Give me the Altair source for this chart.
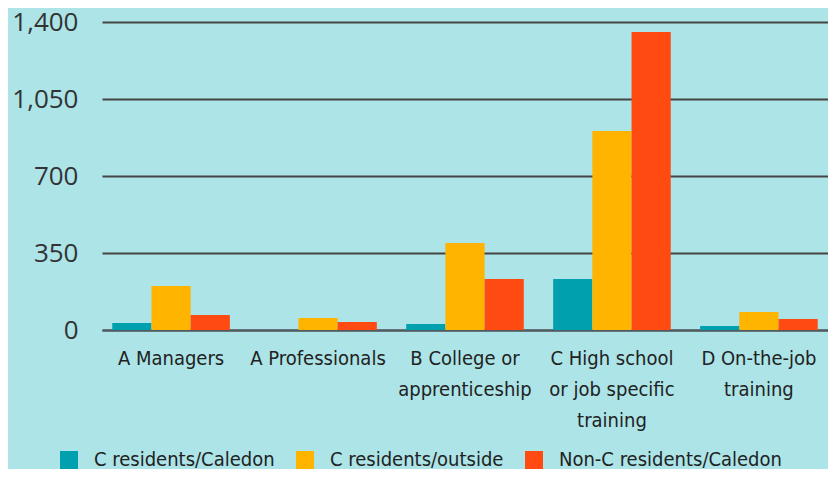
import altair as alt
import pandas as pd

categories = [
    "A Managers",
    "A Professionals",
    "B College or\napprenticeship",
    "C High school\nor job specific\ntraining",
    "D On-the-job\ntraining",
]
series = ["C residents/Caledon", "C residents/outside", "Non-C residents/Caledon"]
caledon = [32, 0, 27, 232, 18]
outside = [200, 55, 395, 905, 82]
non_c = [68, 36, 232, 1355, 50]
colors = ["#00a0ae", "#ffb400", "#ff4a12"]
y_ticks = [0, 350, 700, 1050, 1400]

rows = []
for s, vals in zip(series, [caledon, outside, non_c]):
    for c, v in zip(categories, vals):
        rows.append({"category": c, "series": s, "value": v})
df = pd.DataFrame(rows)

narrow = "'Liberation Sans Narrow', 'DejaVu Sans Condensed', Roboto, sans-serif"

chart = alt.Chart(df).mark_bar().encode(
    x=alt.X(
        "category:N",
        sort=categories,
        scale=alt.Scale(paddingInner=0.2, paddingOuter=0.07),
        axis=alt.Axis(
            title=None,
            labelAngle=0,
            labelExpr="split(datum.label, '\\n')",
            labelFont=narrow,
            labelFontSize=20,
            labelColor="#222222",
            labelLineHeight=31,
            labelPadding=18,
            labelBaseline="top",
            labelLimit=300,
            ticks=False,
            grid=False,
            domainColor="#4f5a63",
            domainWidth=2,
        ),
    ),
    xOffset=alt.XOffset("series:N", sort=series),
    y=alt.Y(
        "value:Q",
        scale=alt.Scale(domain=[0, 1400]),
        axis=alt.Axis(
            title=None,
            values=y_ticks,
            format=",d",
            domain=False,
            ticks=False,
            grid=True,
            gridColor="#444444",
            gridWidth=2,
            labelFont="Open Sans",
            labelFontSize=26,
            labelColor="#333333",
            labelPadding=24,
        ),
    ),
    color=alt.Color(
        "series:N",
        sort=series,
        scale=alt.Scale(domain=series, range=colors),
        legend=alt.Legend(
            title=None,
            orient="none",
            legendX=-43,
            legendY=428,
            direction="horizontal",
            symbolType="square",
            symbolSize=324,
            symbolStrokeWidth=0,
            symbolOpacity=1,
            labelFont=narrow,
            labelFontSize=20,
            labelColor="#222222",
            labelOffset=15,
            labelLimit=300,
            columnPadding=20,
        ),
    ),
).properties(
    width=726,
    height=308,
    autosize=alt.AutoSizeParams(type="none"),
    padding={"left": 94, "top": 14, "right": 0, "bottom": 139},
).configure(
    background="#ace4e7",
).configure_view(
    stroke=None,
)

chart.save("out.html", embed_options={"renderer": "svg", "actions": False})
